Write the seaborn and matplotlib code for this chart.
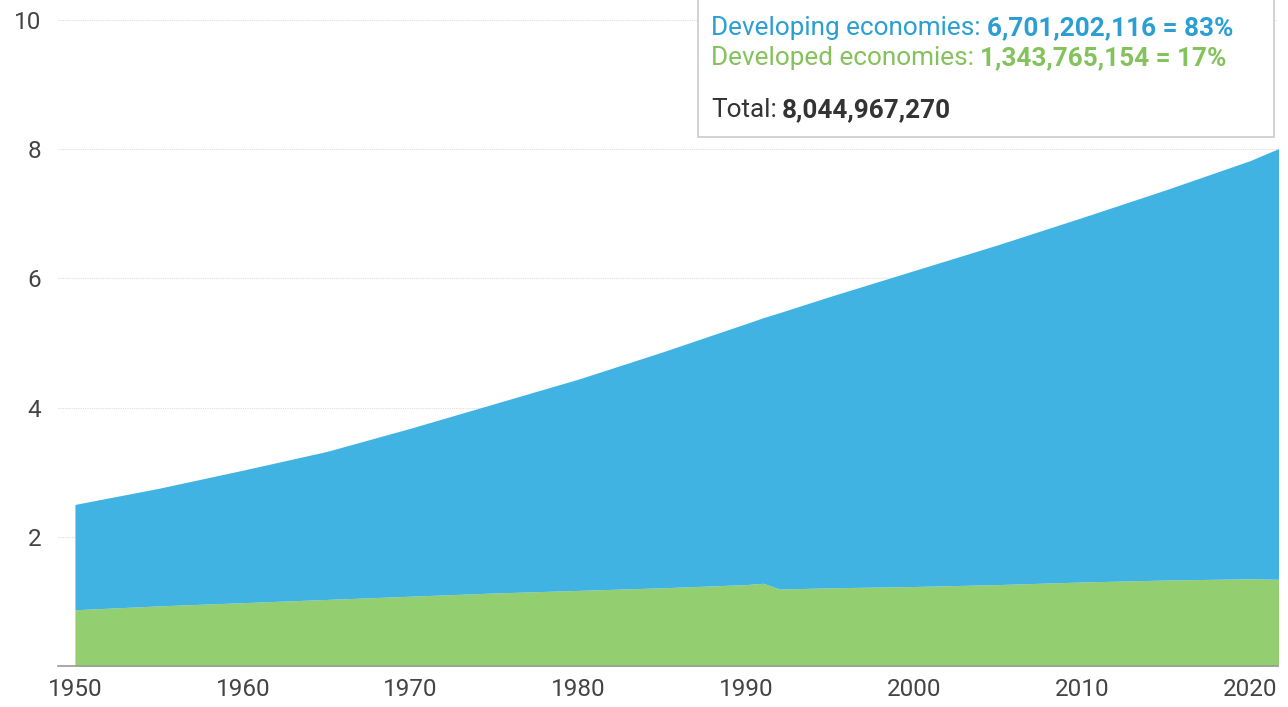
import matplotlib
matplotlib.use("Agg")
import matplotlib.pyplot as plt
import numpy as np
import pandas as pd
import seaborn as sns

sns.set_theme(style="white")
plt.rcParams['font.family'] = ['Roboto', 'DejaVu Sans']

# population in billions
years = [1950, 1955, 1960, 1965, 1970, 1975, 1980, 1985, 1990, 1991, 1992,
         1995, 2000, 2005, 2010, 2015, 2020, 2022]
developed = [0.87, 0.93, 0.98, 1.03, 1.08, 1.13, 1.17, 1.21, 1.26, 1.28, 1.19,
             1.21, 1.23, 1.26, 1.30, 1.33, 1.35, 1.34]
developing = [1.63, 1.82, 2.05, 2.29, 2.60, 2.93, 3.27, 3.65, 4.04, 4.11, 4.28,
              4.51, 4.89, 5.26, 5.64, 6.04, 6.47, 6.70]
yticks = [2, 4, 6, 8, 10]
xticks = [1950, 1960, 1970, 1980, 1990, 2000, 2010, 2020]

df = pd.DataFrame({'year': years, 'Developed economies': developed,
                   'Developing economies': developing})

blue = '#40B3E2'
green = '#93CE70'

fig = plt.figure(figsize=(12.88, 7.07), dpi=100)
ax = fig.add_axes([0.045, 0.058, 0.947, 0.914])

ax.stackplot(df['year'], df['Developed economies'], df['Developing economies'],
             colors=[green, blue], linewidth=0)

ax.set_xlim(1948.99, 2021.65)
ax.set_ylim(0, 10)
ax.set_xticks(xticks)
ax.set_yticks(yticks)
ax.tick_params(axis='both', length=0, labelsize=17.5, labelcolor='#444444')
ax.tick_params(axis='x', pad=9)
ax.tick_params(axis='y', pad=12)
ax.grid(axis='y', color='#dddddd', linestyle=(0, (1, 1)), linewidth=0.8)
ax.set_axisbelow(True)
sns.despine(ax=ax, left=True, right=True, top=True)
ax.spines['bottom'].set_color('#999999')
ax.spines['bottom'].set_linewidth(1.2)
ax.set_xlabel('')
ax.set_ylabel('')

# tooltip box
box = plt.Rectangle((0.542, 0.806), 0.447, 0.25, transform=fig.transFigure,
                    facecolor='white', edgecolor='#cccccc', linewidth=1.2,
                    zorder=5)
fig.add_artist(box)

fig.canvas.draw()
renderer = fig.canvas.get_renderer()


def write_line(parts, x, y, size=18.8, gap=0.0):
    for txt, color, weight in parts:
        t = fig.text(x, y, txt, color=color, fontsize=size, fontweight=weight,
                     va='center', ha='left', zorder=6)
        bb = t.get_window_extent(renderer=renderer)
        x += bb.width / fig.bbox.width + gap


write_line([('Developing economies: ', '#2B9FD3', 'normal'),
            ('6,701,202,116 = 83%', '#2B9FD3', 'bold')], 0.552, 1 - 28 / 707)
write_line([('Developed economies: ', '#84C25C', 'normal'),
            ('1,343,765,154 = 17%', '#84C25C', 'bold')], 0.552, 1 - 58 / 707)
write_line([('Total:', '#333333', 'normal'),
            ('8,044,967,270', '#333333', 'bold')], 0.552, 1 - 110 / 707,
           gap=5 / 1288)

fig.savefig('out.png', dpi=100)
